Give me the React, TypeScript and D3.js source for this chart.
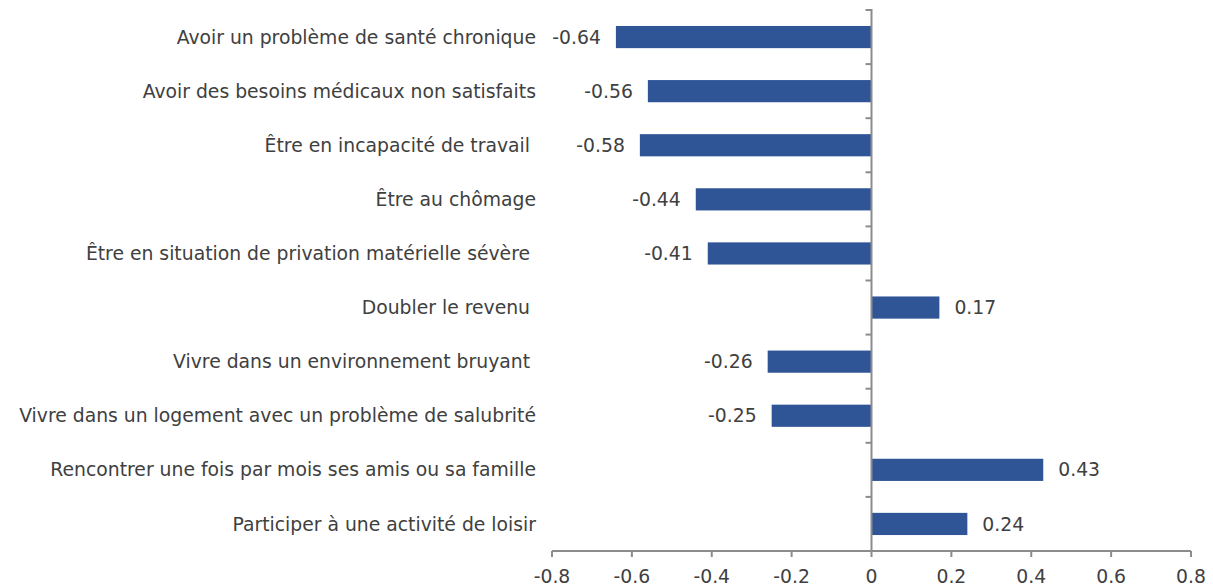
import React from "react";
import * as d3 from "d3";

const categories = [
  "Avoir un problème de santé chronique",
  "Avoir des besoins médicaux non satisfaits",
  "Être en incapacité de travail ",
  "Être au chômage",
  "Être en situation de privation matérielle sévère ",
  "Doubler le revenu ",
  "Vivre dans un environnement bruyant ",
  "Vivre dans un logement avec un problème de salubrité",
  "Rencontrer une fois par mois ses amis ou sa famille",
  "Participer à une activité de loisir",
];
const values = [-0.64, -0.56, -0.58, -0.44, -0.41, 0.17, -0.26, -0.25, 0.43, 0.24];
const valueLabels = ["-0.64", "-0.56", "-0.58", "-0.44", "-0.41", "0.17", "-0.26", "-0.25", "0.43", "0.24"];
const xTicks = [-0.8, -0.6, -0.4, -0.2, 0, 0.2, 0.4, 0.6, 0.8];
const xTickLabels = ["-0.8", "-0.6", "-0.4", "-0.2", "0", "0.2", "0.4", "0.6", "0.8"];

const W = 1213;
const H = 587;
const FONT = "'DejaVu Sans', sans-serif";
const TEXT = "#404040";
const AXIS = "#8c8c8c";
const BAR = "#2F5597";
const FS = 18.8;

export default function App() {
  const x = d3.scaleLinear().domain([-0.8, 0.8]).range([552, 1191]);
  const y = d3.scaleBand<string>().domain(categories).range([10, 551]).paddingInner(0.59).paddingOuter(0.295);
  const band = d3.scaleBand<string>().domain(categories).range([10, 551]);
  const x0 = x(0);
  const axisY = 551;
  return (
    <svg width={W} height={H} style={{ position: "absolute", left: 0, top: 0, background: "#fff" }}>
      {categories.map((c, i) => {
        const v = values[i];
        const yy = y(c)!;
        const bh = y.bandwidth();
        const cy = yy + bh / 2;
        const xs = Math.min(x(v), x0);
        const w = Math.abs(x(v) - x0);
        return (
          <g key={c}>
            <rect x={xs} y={yy} width={w} height={bh} fill={BAR} />
            <text
              x={v < 0 ? x(v) - 15 : x(v) + 15}
              y={cy}
              dy="0.35em"
              textAnchor={v < 0 ? "end" : "start"}
              fontFamily={FONT}
              fontSize={FS}
              fill={TEXT}
            >
              {valueLabels[i]}
            </text>
            <text
              x={536}
              y={cy}
              dy="0.35em"
              textAnchor="end"
              fontFamily={FONT}
              fontSize={FS}
              fill={TEXT}
              style={{ whiteSpace: "pre" }}
            >
              {c}
            </text>
          </g>
        );
      })}
      <line x1={x0} x2={x0} y1={9} y2={axisY} stroke={AXIS} strokeWidth={2} />
      {categories.map((c) => (
        <line key={"t" + c} x1={x0 - 6} x2={x0} y1={band(c)!} y2={band(c)!} stroke={AXIS} strokeWidth={2} />
      ))}
      <line x1={x(-0.8)} x2={x(0.8)} y1={axisY} y2={axisY} stroke={AXIS} strokeWidth={2} />
      {xTicks.map((t, i) => (
        <g key={"x" + t}>
          <line x1={x(t)} x2={x(t)} y1={axisY} y2={axisY + 6} stroke={AXIS} strokeWidth={2} />
          <text x={x(t)} y={583} textAnchor="middle" fontFamily={FONT} fontSize={FS} fill={TEXT}>
            {xTickLabels[i]}
          </text>
        </g>
      ))}
    </svg>
  );
}
